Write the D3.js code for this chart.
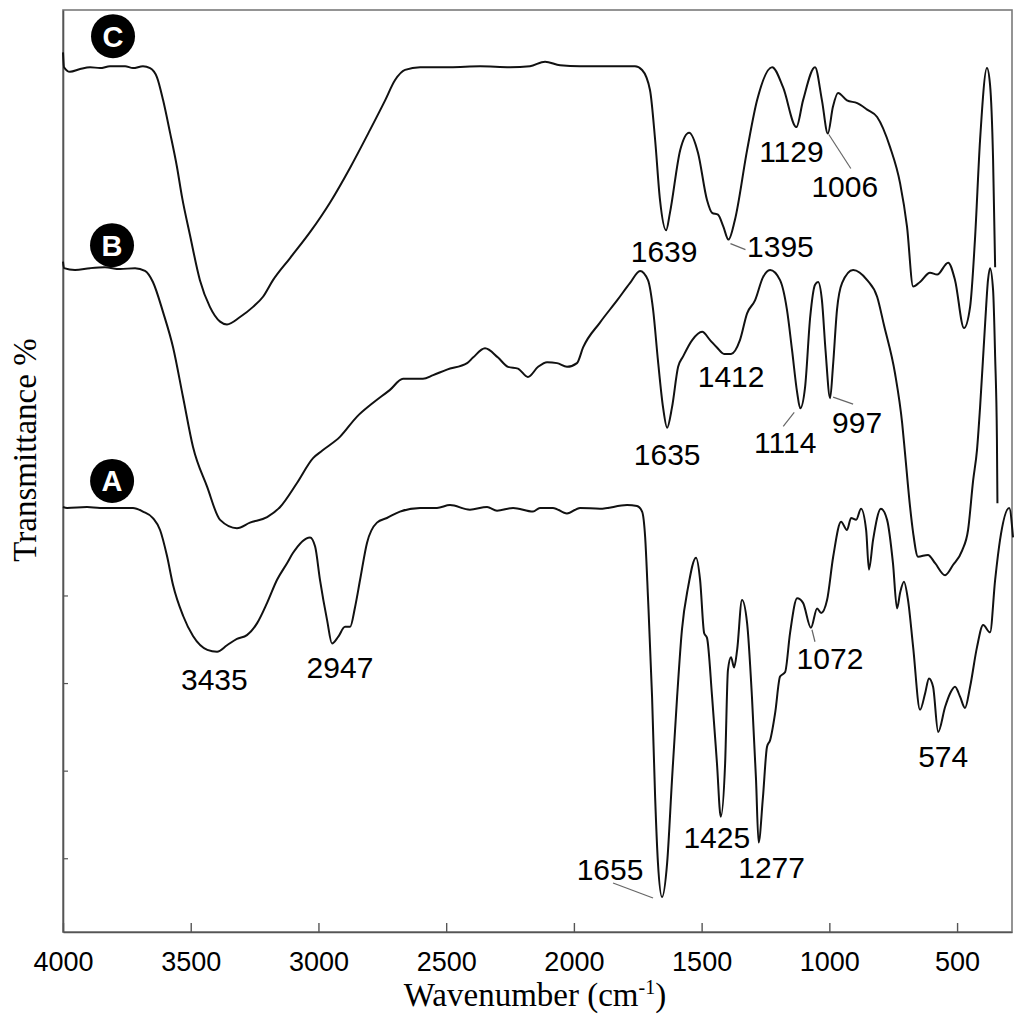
<!DOCTYPE html>
<html>
<head>
<meta charset="utf-8">
<script src="https://cdn.jsdelivr.net/npm/d3@7"></script>
<style>
	body { margin: 0; background: #fff; }
	svg { display: block; }
</style>
</head>
<body>
<div id="chart"></div>
<script>
// FTIR spectra, [wavenumber cm-1, transmittance (arb. %, offset per trace)]
const spectrumC = [
	[4000, 95.4], [3996, 93.8], [3973, 93.3], [3933, 93.6], [3894, 93.8], [3855, 93.7], [3816, 93.9],
	[3757, 93.9], [3726, 93.7], [3687, 93.9], [3659, 93.7], [3632, 92.7], [3608, 90.2], [3581, 86.7],
	[3554, 83.0], [3534, 79.7], [3503, 75.6], [3464, 70.7], [3425, 67.8], [3385, 66.2], [3358, 65.9],
	[3307, 66.7], [3256, 67.8], [3217, 68.9], [3178, 70.7], [3111, 73.1], [3033, 75.9], [2955, 79.1],
	[2876, 82.9], [2798, 87.0], [2739, 90.2], [2700, 92.4], [2661, 93.5], [2602, 93.8], [2485, 93.8],
	[2367, 93.9], [2250, 93.8], [2172, 93.9], [2113, 94.4], [2054, 94.0], [1976, 93.9], [1859, 93.9],
	[1761, 93.9], [1733, 93.5], [1702, 91.3], [1682, 85.9], [1663, 79.4], [1639, 76.1], [1624, 78.0],
	[1584, 84.8], [1549, 86.7], [1514, 84.5], [1479, 79.4], [1459, 78.0], [1436, 77.8], [1415, 76.5],
	[1395, 75.1], [1370, 77.2], [1322, 84.8], [1283, 90.2], [1224, 93.8], [1181, 91.6], [1129, 87.3],
	[1103, 90.2], [1056, 93.8], [1029, 90.2], [1006, 86.6], [986, 89.5], [966, 91.0], [931, 90.2],
	[891, 89.9], [852, 89.2], [813, 88.4], [762, 85.1], [723, 81.2], [696, 76.5], [672, 70.0],
	[645, 70.5], [606, 71.5], [578, 71.3], [535, 72.6], [508, 70.7], [473, 65.5], [449, 67.8],
	[430, 75.1], [410, 85.9], [383, 93.7], [371, 91.9], [359, 83.7], [351, 72.1]
]

const spectrumB = [
	[4000, 72.7], [3996, 72.0], [3953, 71.8], [3894, 72.0], [3836, 72.1], [3777, 71.9], [3718, 72.0],
	[3679, 71.7], [3648, 70.5], [3608, 67.2], [3569, 63.4], [3530, 58.0], [3491, 52.6], [3436, 48.3],
	[3385, 44.7], [3319, 43.8], [3268, 44.4], [3201, 45.0], [3150, 46.1], [3084, 48.7], [3021, 51.4],
	[2986, 52.2], [2916, 53.7], [2849, 55.9], [2786, 57.4], [2720, 58.8], [2669, 60.0], [2591, 60.0],
	[2551, 60.4], [2497, 61.0], [2418, 61.7], [2395, 62.3], [2348, 63.3], [2297, 62.3], [2258, 61.3],
	[2219, 61.1], [2180, 60.2], [2140, 61.3], [2105, 61.8], [2066, 61.7], [2027, 61.3], [1988, 61.7],
	[1964, 63.4], [1898, 66.1], [1831, 68.5], [1780, 70.4], [1741, 71.7], [1710, 70.7], [1690, 67.5],
	[1671, 62.0], [1651, 56.9], [1635, 54.7], [1616, 56.9], [1592, 61.3], [1573, 62.4], [1537, 64.2],
	[1498, 65.1], [1467, 64.2], [1440, 63.4], [1412, 62.7], [1385, 62.7], [1350, 64.2], [1322, 67.1],
	[1291, 68.5], [1260, 71.0], [1232, 71.8], [1193, 70.7], [1166, 67.5], [1146, 63.1], [1126, 58.5],
	[1114, 56.8], [1095, 59.1], [1075, 66.7], [1056, 70.2], [1044, 70.5], [1029, 68.5], [1015, 63.1],
	[997, 57.9], [986, 61.3], [970, 67.5], [950, 70.4], [907, 71.8], [852, 70.7], [813, 68.9],
	[786, 65.8], [743, 60.6], [715, 55.2], [704, 52.0], [684, 46.1], [672, 43.3], [653, 40.7],
	[614, 40.9], [586, 40.0], [547, 38.7], [516, 39.8], [480, 41.4], [457, 43.6], [437, 49.0],
	[422, 52.3], [410, 56.9], [390, 66.1], [379, 70.7], [371, 72.0], [359, 69.6], [351, 62.4],
	[344, 53.4], [342, 46.5]
]

const spectrumA = [
	[4000, 46.1], [3984, 46.0], [3906, 46.1], [3855, 46.0], [3789, 46.0], [3726, 46.0], [3687, 45.6],
	[3648, 44.9], [3620, 43.6], [3593, 40.8], [3569, 37.6], [3530, 34.3], [3491, 32.1], [3435, 30.6],
	[3397, 30.4], [3358, 31.1], [3319, 31.8], [3280, 32.2], [3240, 33.5], [3201, 35.7], [3162, 38.2],
	[3123, 40.0], [3100, 41.1], [3033, 42.8], [3013, 41.8], [2994, 38.2], [2966, 33.8], [2947, 31.3],
	[2923, 32.0], [2896, 33.1], [2876, 33.1], [2857, 35.2], [2837, 38.2], [2810, 42.2], [2771, 44.4],
	[2732, 44.9], [2681, 45.6], [2602, 46.0], [2536, 46.0], [2485, 46.3], [2407, 45.8], [2340, 46.1],
	[2301, 45.7], [2238, 46.0], [2160, 45.6], [2133, 46.0], [2082, 46.0], [2027, 45.4], [1976, 46.0],
	[1898, 45.9], [1792, 46.3], [1753, 46.2], [1733, 45.6], [1721, 42.8], [1710, 36.3], [1694, 25.5],
	[1682, 14.6], [1671, 7.5], [1655, 3.8], [1635, 7.5], [1616, 16.5], [1596, 25.5], [1577, 32.8],
	[1553, 37.4], [1522, 40.6], [1506, 38.2], [1490, 32.4], [1479, 31.9], [1459, 25.5], [1440, 18.3],
	[1425, 12.5], [1408, 18.3], [1397, 28.4], [1385, 29.8], [1373, 28.7], [1361, 30.6], [1342, 36.0],
	[1322, 33.5], [1303, 25.5], [1287, 16.5], [1277, 9.7], [1260, 14.6], [1244, 20.1], [1232, 20.8],
	[1212, 23.8], [1193, 27.7], [1173, 28.2], [1154, 32.4], [1126, 36.2], [1103, 35.7], [1072, 33.0],
	[1048, 35.1], [1032, 34.6], [1009, 36.0], [985, 40.7], [954, 44.5], [931, 43.6], [915, 44.9],
	[895, 44.7], [876, 45.9], [856, 43.6], [845, 39.3], [829, 42.5], [798, 45.9], [774, 44.7],
	[751, 40.0], [735, 35.1], [723, 36.8], [708, 38.0], [692, 36.0], [672, 30.9], [645, 24.1],
	[625, 25.9], [610, 27.5], [594, 26.6], [574, 21.7], [547, 24.4], [527, 25.9], [508, 26.6],
	[488, 25.5], [469, 24.3], [449, 26.6], [422, 30.9], [398, 33.3], [371, 32.5], [351, 38.2],
	[332, 42.5], [296, 46.0], [281, 42.8]
]

const peaksC = [1639, 1395, 1129, 1006]
const peaksB = [1635, 1412, 1114, 997]
const peaksA = [3435, 2947, 1655, 1425, 1277, 1072, 574]

const xTicks = [4000, 3500, 3000, 2500, 2000, 1500, 1000, 500]
const yTicks = [8, 17.5, 27, 36.5]

// label placement, pixel offsets from the band minimum
const labelLayout = {
	1639: { dx: -2, dy: 32 },
	1395: { dx: 52, dy: 17, leader: [2, 4, 17, 10] },
	1129: { dx: -5, dy: 35 },
	1006: { dx: 17, dy: 63, leader: [1, 1, 23, 35] },
	1635: { dx: 0, dy: 37 },
	1412: { dx: 7, dy: 33 },
	1114: { dx: -15, dy: 45, leader: [-6, 4, -17, 18] },
	997: { dx: 27, dy: 35, leader: [3, -1, 23, 6] },
	3435: { dx: 7, dy: 40 },
	2947: { dx: 8, dy: 35 },
	1655: { dx: -52, dy: -17, leader: [-9, 1, -49, -14] },
	1425: { dx: -4, dy: 31 },
	1277: { dx: 13, dy: 35 },
	1072: { dx: 19, dy: 41, leader: [1, 2, 4, 14] },
	574: { dx: 5, dy: 35 }
}

const series = [
	{ name: 'C', data: spectrumC, peaks: peaksC, badge: [49, -31] },
	{ name: 'B', data: spectrumB, peaks: peaksB, badge: [48, -23] },
	{ name: 'A', data: spectrumA, peaks: peaksA, badge: [45, -27] }
]

const width = 1024
const height = 1022
const margin = { top: 10, right: 12, bottom: 90, left: 63 }

const svg = d3.select('#chart')
	.append('svg')
	.attr('width', width)
	.attr('height', height)

const x = d3.scaleLinear()
	.domain([4000, 285])
	.range([margin.left, width - margin.right])

const y = d3.scaleLinear()
	.domain([0, 100])
	.range([height - margin.bottom, margin.top])

// frame
svg.append('rect')
	.attr('x', margin.left)
	.attr('y', margin.top)
	.attr('width', width - margin.right - margin.left)
	.attr('height', height - margin.bottom - margin.top)
	.attr('fill', 'none')
	.attr('stroke', '#7a7a7a')
	.attr('stroke-width', 1.6)

// x axis, ticks pointing inward
const xAxis = svg.append('g')
	.attr('transform', `translate(0,${height - margin.bottom})`)
	.call(d3.axisBottom(x)
		.tickValues(xTicks)
		.tickFormat(d3.format('d'))
		.tickSizeInner(-9)
		.tickSizeOuter(0)
		.tickPadding(20))

xAxis.select('.domain').attr('stroke', '#555').attr('stroke-width', 1.6)
xAxis.selectAll('.tick line').attr('stroke', '#555').attr('stroke-width', 1.4)
xAxis.selectAll('.tick text')
	.attr('fill', '#000')
	.attr('font-family', 'Liberation Sans, Arial, sans-serif')
	.attr('font-size', 27)

const yAxis = svg.append('g')
	.attr('transform', `translate(${margin.left},0)`)
	.call(d3.axisLeft(y).tickValues(yTicks).tickSizeInner(-5).tickSizeOuter(0).tickFormat(''))

yAxis.select('.domain').attr('stroke', '#555').attr('stroke-width', 1.6)
yAxis.selectAll('.tick line').attr('stroke', '#555').attr('stroke-width', 1.2)

// axis titles
svg.append('text')
	.attr('x', 535)
	.attr('y', 1006)
	.attr('text-anchor', 'middle')
	.attr('font-family', 'Liberation Serif, Times New Roman, serif')
	.attr('font-size', 33)
	.html('Wavenumber (cm<tspan dy="-12" font-size="20">-1</tspan><tspan dy="12">)</tspan>')

svg.append('text')
	.attr('transform', 'translate(36,450) rotate(-90)')
	.attr('text-anchor', 'middle')
	.attr('font-family', 'Liberation Serif, Times New Roman, serif')
	.attr('font-size', 33)
	.text('Transmittance %')

// spectra
const line = d3.line()
	.x(d => x(d[0]))
	.y(d => y(d[1]))
	.curve(d3.curveMonotoneX)

const traces = svg.append('g')

traces.selectAll('path')
	.data(series)
	.join('path')
	.attr('d', d => line(d.data))
	.attr('fill', 'none')
	.attr('stroke', '#111')
	.attr('stroke-width', 2)
	.attr('stroke-linejoin', 'round')

// trace badges
const badges = svg.append('g')
	.selectAll('g')
	.data(series)
	.join('g')
	.attr('transform', d => {
		const [w, t] = d.data[1]
		return `translate(${x(w) + d.badge[0]},${y(t) + d.badge[1]})`
	})

badges.append('circle')
	.attr('r', 22)
	.attr('fill', '#000')

badges.append('text')
	.attr('text-anchor', 'middle')
	.attr('dy', '0.36em')
	.attr('fill', '#fff')
	.attr('font-family', 'Liberation Sans, Arial, sans-serif')
	.attr('font-weight', 'bold')
	.attr('font-size', 29)
	.text(d => d.name)

// band labels
const annotations = series.flatMap(s => s.peaks.map(p => {
	const pt = d3.least(s.data, d => Math.abs(d[0] - p))
	return { text: String(p), px: x(pt[0]), py: y(pt[1]), ...labelLayout[p] }
}))

const notes = svg.append('g')

notes.selectAll('line')
	.data(annotations.filter(d => d.leader))
	.join('line')
	.attr('x1', d => d.px + d.leader[0])
	.attr('y1', d => d.py + d.leader[1])
	.attr('x2', d => d.px + d.leader[2])
	.attr('y2', d => d.py + d.leader[3])
	.attr('stroke', '#666')
	.attr('stroke-width', 1.2)

notes.selectAll('text')
	.data(annotations)
	.join('text')
	.attr('x', d => d.px + d.dx)
	.attr('y', d => d.py + d.dy)
	.attr('text-anchor', 'middle')
	.attr('font-family', 'Liberation Sans, Arial, sans-serif')
	.attr('font-size', 30)
	.attr('fill', '#000')
	.text(d => d.text)
</script>
</body>
</html>
